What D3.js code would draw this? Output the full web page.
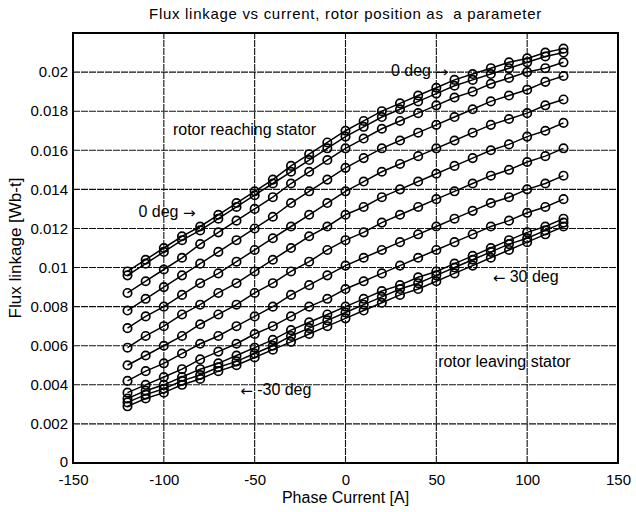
<!DOCTYPE html>
<html>
<head>
<meta charset="utf-8">
<script src="https://cdn.jsdelivr.net/npm/d3@7/dist/d3.min.js"></script>
<style>
  html, body { margin: 0; padding: 0; background: #fff; }
  svg { display: block; font-family: "Liberation Sans", Arial, Helvetica, sans-serif; }
</style>
</head>
<body>
<svg id="chart" width="636" height="512"></svg>
<script>
// Phase current samples [A]
const current = [-120, -110, -100, -90, -80, -70, -60, -50, -40, -30, -20, -10, 0,
                 10, 20, 30, 40, 50, 60, 70, 80, 90, 100, 110, 120];

// Flux linkage [Wb-t], one curve per rotor position (top: 0 deg, bottom: ±30 deg)
const flux0  = [0.0098, 0.0104, 0.0110, 0.0116, 0.0121, 0.0127, 0.0133, 0.0139, 0.0145, 0.0152, 0.0158, 0.0164, 0.0170, 0.0175, 0.0180, 0.0184, 0.0188, 0.0192, 0.0196, 0.0199, 0.0202, 0.0205, 0.0207, 0.0210, 0.0212];
const flux1  = [0.0096, 0.0102, 0.0108, 0.0114, 0.0119, 0.0125, 0.0131, 0.0137, 0.0143, 0.0149, 0.0155, 0.0161, 0.0167, 0.0172, 0.0177, 0.0181, 0.0185, 0.0189, 0.0193, 0.0196, 0.0199, 0.0202, 0.0205, 0.0208, 0.0210];
const flux2  = [0.0087, 0.0093, 0.0099, 0.0105, 0.0112, 0.0118, 0.0124, 0.0130, 0.0136, 0.0143, 0.0149, 0.0155, 0.0161, 0.0166, 0.0171, 0.0175, 0.0179, 0.0183, 0.0187, 0.0190, 0.0194, 0.0197, 0.0200, 0.0202, 0.0205];
const flux3  = [0.0078, 0.0084, 0.0090, 0.0096, 0.0102, 0.0108, 0.0114, 0.0120, 0.0126, 0.0133, 0.0139, 0.0145, 0.0151, 0.0156, 0.0161, 0.0165, 0.0169, 0.0173, 0.0177, 0.0181, 0.0185, 0.0188, 0.0191, 0.0195, 0.0198];
const flux4  = [0.0069, 0.0075, 0.0080, 0.0086, 0.0092, 0.0097, 0.0103, 0.0109, 0.0115, 0.0121, 0.0127, 0.0133, 0.0139, 0.0144, 0.0149, 0.0153, 0.0157, 0.0161, 0.0165, 0.0169, 0.0173, 0.0176, 0.0179, 0.0183, 0.0186];
const flux5  = [0.0059, 0.0065, 0.0070, 0.0076, 0.0081, 0.0087, 0.0092, 0.0098, 0.0104, 0.0110, 0.0116, 0.0121, 0.0127, 0.0131, 0.0136, 0.0140, 0.0144, 0.0148, 0.0152, 0.0156, 0.0160, 0.0163, 0.0167, 0.0170, 0.0174];
const flux6  = [0.0050, 0.0055, 0.0060, 0.0065, 0.0071, 0.0076, 0.0081, 0.0087, 0.0092, 0.0098, 0.0103, 0.0109, 0.0114, 0.0118, 0.0123, 0.0127, 0.0131, 0.0135, 0.0139, 0.0143, 0.0147, 0.0150, 0.0154, 0.0157, 0.0161];
const flux7  = [0.0042, 0.0047, 0.0051, 0.0056, 0.0061, 0.0065, 0.0070, 0.0075, 0.0080, 0.0086, 0.0091, 0.0096, 0.0101, 0.0105, 0.0109, 0.0113, 0.0117, 0.0121, 0.0125, 0.0129, 0.0133, 0.0136, 0.0140, 0.0143, 0.0147];
const flux8  = [0.0036, 0.0040, 0.0044, 0.0048, 0.0053, 0.0057, 0.0061, 0.0066, 0.0070, 0.0075, 0.0080, 0.0084, 0.0089, 0.0093, 0.0097, 0.0101, 0.0105, 0.0109, 0.0113, 0.0117, 0.0121, 0.0124, 0.0128, 0.0131, 0.0135];
const flux9  = [0.0033, 0.0037, 0.0040, 0.0044, 0.0048, 0.0051, 0.0055, 0.0059, 0.0063, 0.0068, 0.0072, 0.0076, 0.0080, 0.0084, 0.0088, 0.0091, 0.0095, 0.0098, 0.0102, 0.0106, 0.0110, 0.0114, 0.0118, 0.0121, 0.0125];
const flux10 = [0.0031, 0.0035, 0.0038, 0.0042, 0.0045, 0.0049, 0.0052, 0.0056, 0.0060, 0.0065, 0.0069, 0.0073, 0.0077, 0.0081, 0.0085, 0.0089, 0.0092, 0.0096, 0.0100, 0.0104, 0.0108, 0.0112, 0.0115, 0.0119, 0.0123];
const flux11 = [0.0029, 0.0033, 0.0036, 0.0040, 0.0043, 0.0047, 0.0050, 0.0054, 0.0058, 0.0062, 0.0066, 0.0070, 0.0074, 0.0078, 0.0082, 0.0086, 0.0089, 0.0093, 0.0097, 0.0101, 0.0105, 0.0109, 0.0113, 0.0117, 0.0121];

const curves = [flux0, flux1, flux2, flux3, flux4, flux5, flux6, flux7, flux8, flux9, flux10, flux11];

// Axis ticks
const xTicks = [-150, -100, -50, 0, 50, 100, 150];
const yTicks = [0, 0.002, 0.004, 0.006, 0.008, 0.01, 0.012, 0.014, 0.016, 0.018, 0.02];

const titleText = "Flux linkage vs current, rotor position as  a parameter";
const xLabel = "Phase Current [A]";
const yLabel = "Flux linkage [Wb-t]";

// Text annotations placed in data coordinates; arrows set in a separate span
const notes = [
  { pre: "0 deg ", arrow: "\u2192", post: "", x: -114, y: 0.0128 },
  { pre: "0 deg ", arrow: "\u2192", post: "", x: 25, y: 0.0200 },
  { pre: "rotor reaching stator", arrow: "", post: "", x: -95, y: 0.0170 },
  { pre: "", arrow: "\u2190", post: " 30 deg", x: 81, y: 0.00946 },
  { pre: "rotor leaving stator", arrow: "", post: "", x: 51, y: 0.0051 },
  { pre: "", arrow: "\u2190", post: " -30 deg", x: -58, y: 0.0037 }
];

const svg = d3.select("#chart");
const margin = { left: 73, right: 18, top: 33, bottom: 49 };
const W = 636, H = 512;
const x = d3.scaleLinear().domain([-150, 150]).range([margin.left, W - margin.right]);
const y = d3.scaleLinear().domain([0, 0.022]).range([H - margin.bottom, margin.top]);

// Grid
const grid = svg.append("g");
grid.selectAll("line.vx").data(xTicks.slice(1, -1)).join("line")
  .attr("x1", d => x(d)).attr("x2", d => x(d))
  .attr("y1", y(0)).attr("y2", y(0.022))
  .attr("stroke", "#111").attr("stroke-width", 1.1).attr("stroke-dasharray", "7,1");
grid.selectAll("line.hy").data(yTicks.slice(1)).join("line")
  .attr("x1", x(-150)).attr("x2", x(150))
  .attr("y1", d => y(d)).attr("y2", d => y(d))
  .attr("stroke", "#111").attr("stroke-width", 1.1).attr("stroke-dasharray", "7,1");

// Axes
const fmtY = d => d === 0 ? "0" : String(+d.toFixed(3));
const xAxis = svg.append("g").attr("transform", `translate(0,${y(0)})`)
  .call(d3.axisBottom(x).tickValues(xTicks).tickSize(0).tickPadding(11).tickFormat(d => String(d)));
const yAxis = svg.append("g").attr("transform", `translate(${x(-150)},0)`)
  .call(d3.axisLeft(y).tickValues(yTicks).tickSize(0).tickPadding(5).tickFormat(fmtY));
[xAxis, yAxis].forEach(g => {
  g.select(".domain").remove();
  g.selectAll("text").attr("font-size", 15).attr("fill", "#000")
    .attr("font-family", "'Liberation Sans', Arial, sans-serif");
});
// the zero label sits a touch higher so it clears the -150 label below it
yAxis.selectAll(".tick text").filter(d => d === 0).attr("dy", "0.2em");

// Curves
const line = d3.line().x((d, i) => x(current[i])).y(d => y(d));
const series = svg.append("g");
curves.forEach(vals => {
  series.append("path").datum(vals).attr("d", line)
    .attr("fill", "none").attr("stroke", "#000").attr("stroke-width", 1.5);
  series.append("g").selectAll("circle").data(vals).join("circle")
    .attr("cx", (d, i) => x(current[i])).attr("cy", d => y(d)).attr("r", 4.2)
    .attr("fill", "none").attr("stroke", "#000").attr("stroke-width", 1.7);
});

// Plot frame
svg.append("rect")
  .attr("x", x(-150)).attr("y", y(0.022))
  .attr("width", x(150) - x(-150)).attr("height", y(0) - y(0.022))
  .attr("fill", "none").attr("stroke", "#000").attr("stroke-width", 2);

// Annotations
const noteText = svg.append("g").selectAll("text").data(notes).join("text")
  .attr("x", d => x(d.x)).attr("y", d => y(d.y))
  .attr("dominant-baseline", "middle")
  .attr("font-size", 16).attr("fill", "#000")
  .style("white-space", "pre");
noteText.append("tspan").text(d => d.pre);
noteText.filter(d => d.arrow).append("tspan")
  .attr("font-family", "'DejaVu Sans', sans-serif").attr("font-size", 15).text(d => d.arrow);
noteText.append("tspan").text(d => d.post);

// Titles
svg.append("text").attr("x", (x(-150) + x(150)) / 2).attr("y", 19)
  .attr("text-anchor", "middle").attr("font-size", 15).attr("letter-spacing", 0.7)
  .style("white-space", "pre").text(titleText);
svg.append("text").attr("x", (x(-150) + x(150)) / 2).attr("y", 503)
  .attr("text-anchor", "middle").attr("font-size", 16).text(xLabel);
svg.append("text").attr("transform", `translate(21,${(y(0) + y(0.022)) / 2}) rotate(-90)`)
  .attr("text-anchor", "middle").attr("font-size", 17).text(yLabel);
</script>
</body>
</html>
